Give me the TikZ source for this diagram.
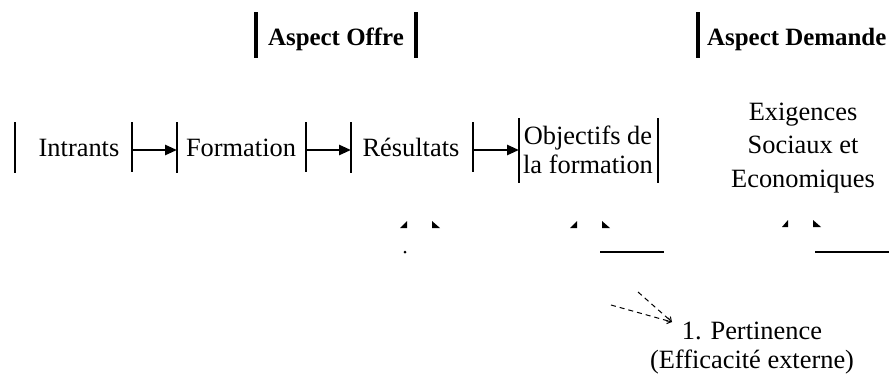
\documentclass[tikz,border=0pt]{standalone}
\usepackage{fontspec}
\setmainfont{Liberation Serif}
\usetikzlibrary{arrows.meta}
\begin{document}
\begin{tikzpicture}[x=1bp,y=-1bp,
  txt/.style={inner sep=0pt, align=center, font=\fontsize{26.5}{29.5}\selectfont},
  wtxt/.style={inner sep=0pt, align=center, font=\fontsize{26.5}{34}\selectfont},
  hdr/.style={inner sep=0pt, font=\fontsize{25}{28}\selectfont\bfseries},
  bar/.style={line width=1.2bp},
  hbar/.style={line width=4bp},
  flow/.style={line width=2.6bp, -{Triangle[length=12bp,width=10bp]}},
  tipmark/.style={fill=black},
  dsh/.style={line width=1bp, dash pattern=on 5bp off 4bp, -{Straight Barb[length=4bp,width=6bp]}}]
\useasboundingbox (0,0) rectangle (889,376);

% headers
\node[hdr, anchor=base] (offre) at (336,45) {Aspect Offre};
\draw[hbar] (256,12) -- (256,58);
\draw[hbar] (416,12) -- (416,58);
\node[hdr, anchor=base west] (demande) at (707,45) {Aspect Demande};
\draw[hbar] (698,12) -- (698,58);

% row
\coordinate (b0t) at (15,122);  \coordinate (b0b) at (15,173);
\coordinate (a1t) at (132,122); \coordinate (a1b) at (132,172);
\coordinate (a1e) at (177,122); \coordinate (a1f) at (177,173);
\coordinate (a2t) at (306,122); \coordinate (a2b) at (306,172);
\coordinate (a2e) at (351,122); \coordinate (a2f) at (351,173);
\coordinate (a3t) at (473,122); \coordinate (a3b) at (473,172);
\coordinate (a3e) at (519,118); \coordinate (a3f) at (519,183);
\coordinate (o2t) at (658,118); \coordinate (o2b) at (658,183);

\coordinate (s1) at (132,150); \coordinate (e1) at (177,150);
\coordinate (s2) at (306,150); \coordinate (e2) at (351,150);
\coordinate (s3) at (473,150); \coordinate (e3) at (519,150);

\draw[bar] (b0t) -- (b0b);
\draw[bar] (a1t) -- (a1b); \draw[bar] (a1e) -- (a1f);
\draw[bar] (a2t) -- (a2b); \draw[bar] (a2e) -- (a2f);
\draw[bar] (a3t) -- (a3b); \draw[bar] (a3e) -- (a3f);
\draw[bar] (o2t) -- (o2b);

\draw[flow] (s1) -- (e1);
\draw[flow] (s2) -- (e2);
\draw[flow] (s3) -- (e3);

\node[txt, anchor=base] (intrants) at (79,156) {Intrants};
\node[txt, anchor=base] (formation) at (241,156) {Formation};
\node[txt, anchor=base] (resultats) at (411,156) {Résultats};
\node[txt] (objectifs) at (588,150) {Objectifs de\\la formation};
\node[wtxt] (exigences) at (803,148) {Exigences\\Sociaux et\\Economiques};

% small arrow tips
\fill[tipmark] (400,228) -- (407,228) -- (407,221) -- cycle;
\fill[tipmark] (432,221) -- (432,228) -- (440,228) -- cycle;
\fill[tipmark] (570,228) -- (577,228) -- (577,221) -- cycle;
\fill[tipmark] (602,221) -- (602,228) -- (610,228) -- cycle;
\fill[tipmark] (782,227) -- (788,227) -- (788,220) -- cycle;
\fill[tipmark] (813,220) -- (813,227) -- (821,227) -- cycle;

% dot and short lines
\fill (405,252) circle (1.5bp);
\draw[line width=1.6bp] (600,252) -- (664,252);
\draw[line width=1.6bp] (815,252) -- (889,252);

% pertinence
\node[txt] (pert) at (752,348) {1. Pertinence\\(Efficacité externe)};
\coordinate (d1) at (638,292);
\coordinate (d2) at (611,305);
\coordinate (dt) at (672,322);
\draw[dsh] (d1) -- (dt);
\draw[dsh] (d2) -- (dt);
\end{tikzpicture}
\end{document}
